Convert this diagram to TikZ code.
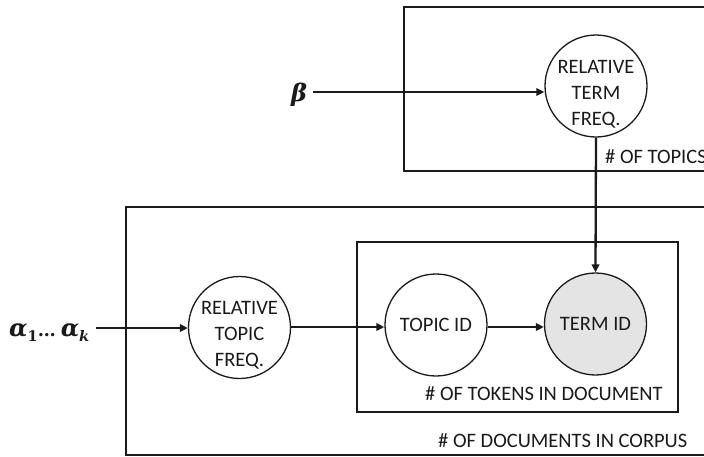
\documentclass[tikz,border=0pt]{standalone}
\usepackage{fontspec}
\setmainfont{Carlito}
\newfontfamily\symfont{DejaVu Serif}
\usetikzlibrary{arrows.meta}
\definecolor{ink}{HTML}{1A1A1A}
\definecolor{obs}{HTML}{E4E4E4}
\newcommand{\subsc}[1]{\raisebox{-5pt}{\fontsize{14.5}{15}\selectfont #1}}
\tikzset{
  var/.style={circle, draw=ink, line width=1.3pt, minimum size=102pt, inner sep=0pt, align=center,
    font=\fontsize{20.5}{26}\selectfont, text=ink},
  vartext/.style={inner sep=0pt, align=center, font=\fontsize{20.5}{26}\selectfont, text=ink},
  plate/.style={draw=ink, line width=1.3pt},
  platelabel/.style={anchor=base west, inner sep=0pt, font=\fontsize{20.5}{25}\selectfont, text=ink},
  arr/.style={draw=ink, line width=2.3pt, -{Triangle[length=8pt,width=7.5pt]}},
  hyper/.style={anchor=base west, inner sep=0pt, font=\symfont\bfseries\itshape\fontsize{24}{28}\selectfont, text=ink}
}
\begin{document}
\begin{tikzpicture}[x=1pt,y=-1pt]
\useasboundingbox (0,0) rectangle (704,456);
\clip (0,0) rectangle (704,456);
% plates
\draw[plate] (730,7) -- (404,7) -- (404,171) -- (730,171);
\draw[plate] (730,207) -- (126,207) -- (126,455) -- (730,455);
\draw[plate] (357,242) rectangle (678,412);
\node[platelabel] (ltopics) at (605,163) {\# OF TOPICS};
\node[platelabel] (ltokens) at (425,400) {\# OF TOKENS IN DOCUMENT};
\node[platelabel] (ldocs) at (438,447) {\# OF DOCUMENTS IN CORPUS};
% variables
\node[var] (rtf) at (596,86) {};
\node[vartext] (rtftext) at ([yshift=-8pt]rtf.center) {RELATIVE\\TERM\\FREQ.};
\node[var] (rtopf) at (239.5,327.5) {};
\node[vartext] (rtopftext) at ([yshift=-8pt]rtopf.center) {RELATIVE\\TOPIC\\FREQ.};
\node[var] (tid) at (436,325) {TOPIC ID};
\node[var, fill=obs] (termid) at (595.5,324) {TERM ID};
% hyperparameters
\node[hyper] (beta) at (291,101) {β};
\node[hyper] (alpha) at (9,336) {α\subsc{\upshape 1}{\fontsize{18}{20}\selectfont\upshape…}\hspace{5pt}α\subsc{k}};
\coordinate (bstart) at (313,92);
\coordinate (astart) at (96,328);
% edges
\draw[arr] (bstart) -- (bstart -| rtf.west);
\draw[arr] (rtf.south) -- (termid.north);
\draw[arr] (astart) -- (astart -| rtopf.west);
\draw[arr] (rtopf.east |- tid.west) ++(0,2) coordinate (m1) -- (m1 -| tid.west);
\draw[arr] (tid.east) ++(0,2) coordinate (m2) -- (m2 -| termid.west);
\end{tikzpicture}
\end{document}
